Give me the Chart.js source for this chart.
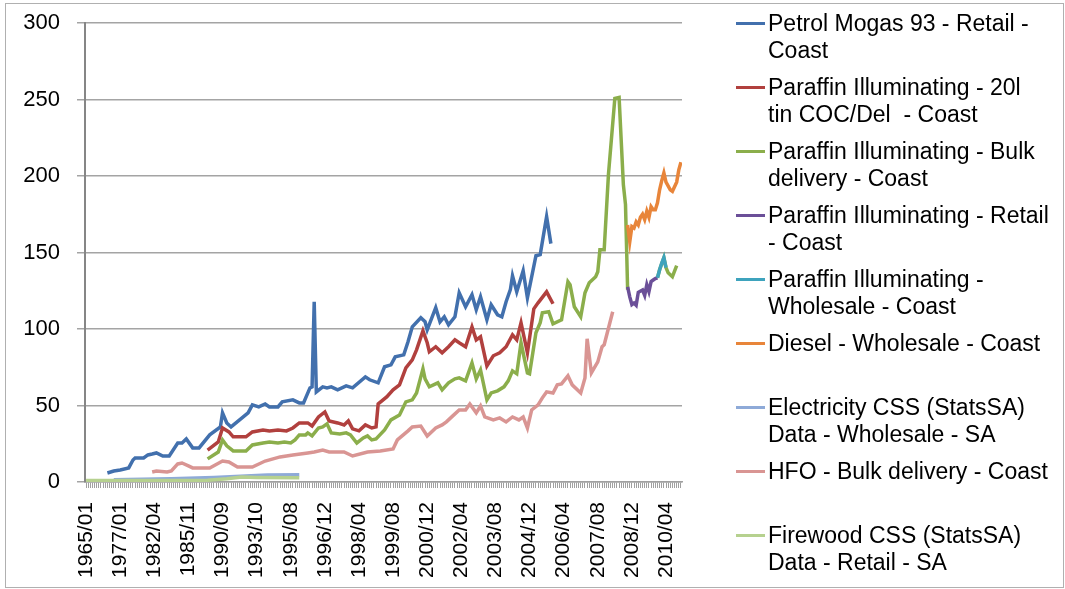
<!DOCTYPE html>
<html>
<head>
<meta charset="utf-8">
<script src="https://cdn.jsdelivr.net/npm/chart.js@4/dist/chart.umd.min.js"></script>
<style>
  body { margin: 0; background: #fff; font-family: "Liberation Sans", Arial, sans-serif; }
  #wrap { position: relative; width: 1065px; height: 589px; overflow: hidden; }
  #frame { position: absolute; left: 5px; top: 3px; width: 1057px; height: 583px; border: 1px solid #b0b0b0; }
  #overviewChart { position: absolute; left: 0; top: 0; }
  #legend { position: absolute; left: 0; top: 0; }
  .item { position: absolute; left: 736px; font-size: 23px; line-height: 27px; color: #000; white-space: pre; }
  .item .swatch { position: absolute; left: 0; top: 12px; width: 29px; height: 3px; }
  .item .txt { position: absolute; left: 32px; top: 0; }
</style>
</head>
<body>
<div id="wrap">
  <div id="frame"></div>
  <canvas id="overviewChart" width="1065" height="589"></canvas>
  <div id="legend"></div>
</div>
<script>
// category axis: one slot per observation, labels shown every 16th slot
const categoryCount = 280;
const tickLabels = ['1965/01', '1977/01', '1982/04', '1985/11', '1990/09', '1993/10', '1995/08', '1996/12',
    '1998/04', '1999/08', '2000/12', '2002/04', '2003/08', '2004/12', '2006/04', '2007/08', '2008/12', '2010/04'];

// [category index, price index]
const petrol = [[10,5.9],[13,7.2],[16,7.9],[20,9.2],[22,14.4],[23,15.7],[27,15.7],[29,17.7],[31,18.3],[33,19.0],
    [36,17.0],[39,17.0],[43,25.5],[45,25.5],[47,28.1],[50,22.3],[53,22.3],[58,30.8],[63,36.0],[64,45.2],[66,38.6],
    [68,36.0],[76,45.2],[78,50.4],[81,49.1],[84,51.0],[86,49.1],[90,49.1],[92,52.4],[97,53.7],[100,51.7],[102,51.7],
    [105,61.5],[106,62.2],[107,117.8],[108,58.9],[111,62.2],[113,61.5],[115,62.2],[118,60.2],[122,62.8],[125,61.5],
    [131,68.7],[133,66.8],[137,64.8],[140,75.3],[143,76.6],[145,81.8],[149,83.1],[151,91.6],[153,101.4],[157,107.3],
    [159,104.7],[160,99.5],[164,113.9],[166,104.7],[168,108.0],[170,102.7],[173,108.0],[175,123.7],[178,114.5],
    [181,122.4],[183,112.6],[185,121.1],[188,106.0],[190,115.8],[193,109.3],[195,108.0],[197,117.8],[199,125.7],
    [200,134.8],[202,124.3],[205,138.1],[207,120.4],[211,147.9],[213,148.6],[216,173.4],[218,155.8]];
const paraffinTin = [[57,20.9],[62,26.2],[64,35.3],[67,32.7],[69,29.5],[75,29.5],[78,32.7],[83,34.0],[86,33.4],
    [90,34.0],[94,33.4],[97,35.3],[100,38.6],[104,38.6],[106,36.6],[109,42.5],[112,45.8],[114,39.9],[118,38.6],
    [121,37.3],[123,39.9],[125,34.7],[128,33.4],[131,37.3],[134,35.3],[136,36.0],[137,51.0],[141,55.6],[144,60.2],
    [147,63.5],[150,74.6],[153,79.8],[155,86.4],[158,98.8],[160,91.0],[161,85.1],[164,88.4],[167,84.4],[170,88.4],
    [173,92.9],[175,91.0],[178,88.4],[181,101.4],[183,92.9],[185,94.9],[188,75.9],[191,82.5],[194,84.4],[197,88.4],
    [200,96.2],[202,92.9],[204,104.1],[207,84.4],[210,113.2],[212,117.1],[216,124.3],[219,116.5]];
const paraffinBulk = [[57,15.1],[62,19.6],[64,27.5],[66,23.6],[69,20.3],[75,20.3],[78,24.2],[83,25.5],[86,26.2],
    [90,25.5],[93,26.2],[96,25.5],[98,27.5],[100,30.8],[103,30.8],[104,32.1],[106,30.1],[109,35.3],[111,36.0],
    [113,38.0],[115,32.1],[119,31.4],[122,32.1],[124,30.8],[127,25.5],[130,28.8],[132,30.1],[134,27.5],[136,28.1],
    [140,34.0],[143,40.6],[147,43.8],[150,52.4],[153,53.7],[155,58.2],[158,74.0],[159,67.4],[161,62.2],[165,64.8],
    [167,60.2],[170,64.8],[173,67.4],[175,68.1],[178,66.1],[181,77.9],[183,67.4],[185,73.3],[188,53.7],[190,58.2],
    [193,59.6],[196,62.2],[198,66.1],[200,72.6],[202,70.7],[204,91.0],[207,71.3],[208,70.7],[211,97.5],[213,104.1],
    [214,110.6],[217,111.3],[219,103.4],[223,106.0],[226,130.9],[227,128.9],[229,114.5],[232,108.0],[234,123.7],
    [236,130.2],[239,134.2],[240,137.4],[241,151.8],[243,151.8],[245,200.9],[248,250.7],[250,251.3],[252,194.4],
    [253,181.3],[254,125.7],[255,null],[268,133.5],[269,138.7],[271,146.6],[272,140.1],[273,136.8],[275,134.2],
    [277,141.4]];
const paraffinRetail = [[254,127.6],[255,121.0],[256,116.0],[257,117.0],[258,115.5],[259,124.0],[261,125.5],
    [262,122.0],[263,129.0],[264,124.5],[265,131.0],[266,132.0],[267,133.0],[268,133.5]];
const paraffinWholesale = [[268,133.5],[269,138.7],[270,143.0],[271,146.6],[272,140.1]];
const diesel = [[254,168.0],[255,157.0],[256,167.0],[257,166.0],[258,170.0],[259,168.0],[260,173.0],[261,175.0],
    [262,171.5],[263,177.0],[264,173.0],[265,180.0],[266,178.0],[267,178.0],[268,182.5],[269,191.0],[270,197.0],
    [271,202.0],[272,196.0],[274,191.0],[275,190.0],[277,196.0],[278,204.0],[279,209.0]];
const electricity = [[13,1.5],[40,2.2],[60,3.0],[75,4.0],[85,4.6],[100,4.7]];
const hfo = [[31,6.5],[33,7.2],[38,6.5],[40,7.2],[43,11.8],[45,12.4],[48,10.5],[50,9.2],[58,9.2],[64,13.7],
    [67,13.1],[71,9.8],[78,9.8],[84,13.7],[91,16.4],[97,17.7],[104,19.0],[107,19.6],[111,20.9],[114,19.6],
    [121,19.6],[125,17.0],[132,19.6],[138,20.3],[144,21.6],[146,27.5],[151,33.4],[153,36.0],[157,36.6],[160,30.1],
    [164,35.3],[167,37.3],[169,39.3],[172,43.2],[175,47.1],[178,47.1],[180,51.0],[183,45.2],[185,49.7],[187,42.5],
    [191,40.6],[194,41.9],[197,39.3],[200,42.5],[203,40.6],[205,42.5],[207,35.3],[209,47.1],[212,50.4],[214,55.0],
    [216,58.9],[219,58.2],[221,63.5],[223,64.1],[226,69.4],[228,63.5],[232,58.2],[234,68.0],[235,93.6],[237,71.3],
    [240,78.5],[242,88.4],[243,89.7],[247,111.3]];
const firewood = [[0,1.0],[57,1.2],[66,2.2],[73,3.2],[80,3.0],[100,2.8]];

const seriesNames = [
    ['Petrol Mogas 93 - Retail -', 'Coast'],
    ['Paraffin Illuminating - 20l', 'tin COC/Del  - Coast'],
    ['Paraffin Illuminating - Bulk', 'delivery - Coast'],
    ['Paraffin Illuminating - Retail', '- Coast'],
    ['Paraffin Illuminating -', 'Wholesale - Coast'],
    ['Diesel - Wholesale - Coast', ''],
    ['Electricity CSS (StatsSA)', 'Data - Wholesale - SA'],
    ['HFO - Bulk delivery - Coast', ''],
    ['Firewood CSS (StatsSA)', 'Data - Retail - SA']
];
const seriesData = [petrol, paraffinTin, paraffinBulk, paraffinRetail, paraffinWholesale, diesel, electricity, hfo, firewood];
const seriesColors = ['#4270ad', '#b1403e', '#8bae4b', '#6b4f98', '#3ea3bd', '#e8853a', '#8eaad8', '#d99593', '#b6d18f'];

const datasets = seriesData.map((pts, i) => ({
    label: seriesNames[i].join(' ').trim(),
    data: pts.map(p => ({ x: p[0], y: p[1] })),
    borderColor: seriesColors[i],
    backgroundColor: seriesColors[i],
    borderWidth: 3.5,
    pointRadius: 0,
    tension: 0,
    spanGaps: false,
    order: seriesData.length - i
}));

const font = { family: '"Liberation Sans", Arial, sans-serif' };

const ctx = document.getElementById('overviewChart').getContext('2d');
const overviewChart = new Chart(ctx, {
    type: 'line',
    data: { datasets: datasets },
    options: {
        responsive: false,
        animation: false,
        layout: { padding: { left: 0, top: 23, right: 383, bottom: 0 } },
        plugins: {
            legend: { display: false },
            tooltip: { enabled: false }
        },
        scales: {
            x: {
                type: 'linear',
                min: -0.5,
                max: categoryCount - 0.5,
                afterBuildTicks: function (scale) {
                    const t = [];
                    for (let i = 0; i < categoryCount; i++) t.push({ value: i });
                    scale.ticks = t;
                },
                afterFit: function (scale) { scale.height = 107; },
                grid: { drawOnChartArea: false, drawTicks: true, tickLength: 6, color: '#a0a0a0', lineWidth: 1 },
                border: { color: '#a0a0a0', width: 1.5 },
                ticks: {
                    autoSkip: false,
                    minRotation: 90,
                    maxRotation: 90,
                    padding: 14,
                    color: '#000',
                    font: Object.assign({ size: 21 }, font),
                    callback: function (value) {
                        return value % 16 === 0 ? tickLabels[value / 16] : '';
                    }
                }
            },
            y: {
                min: 0,
                max: 300,
                afterFit: function (scale) {
                    scale.width = 85;
                    scale.paddingTop = 0;
                    scale.paddingBottom = 0;
                },
                grid: { color: '#a4a4a4', lineWidth: 1.5, tickLength: 8 },
                border: { color: '#868686', width: 2 },
                ticks: {
                    stepSize: 50,
                    padding: 17,
                    color: '#000',
                    font: Object.assign({ size: 22 }, font)
                }
            }
        }
    }
});

// legend, drawn as html so the entries can wrap over two lines
const legend = document.getElementById('legend');
seriesNames.forEach((lines, i) => {
    const item = document.createElement('div');
    item.className = 'item';
    item.style.top = (23 + 64 * i - 13) + 'px';
    const sw = document.createElement('div');
    sw.className = 'swatch';
    sw.style.background = seriesColors[i];
    const txt = document.createElement('div');
    txt.className = 'txt';
    txt.textContent = lines.filter(l => l).join('\n');
    item.appendChild(sw);
    item.appendChild(txt);
    legend.appendChild(item);
});
</script>
</body>
</html>
